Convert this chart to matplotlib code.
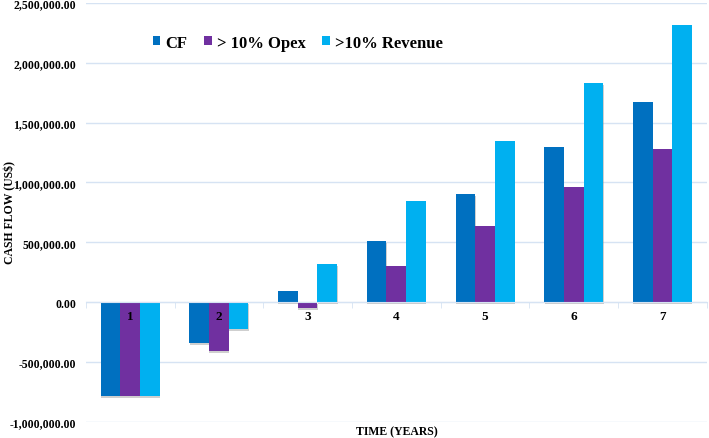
import numpy as np
import matplotlib
matplotlib.use("Agg")
import matplotlib.pyplot as plt
import matplotlib.patheffects as pe
from matplotlib.ticker import FuncFormatter

# values (US$)
years = ["1", "2", "3", "4", "5", "6", "7"]
cf = [-785000, -343000, 90000, 510000, 906000, 1296000, 1672000]
opex = [-785000, -407000, -44000, 301000, 638000, 964000, 1283000]
revenue = [-785000, -226000, 318000, 845000, 1346000, 1834000, 2312000]
series_names = ["CF", "> 10% Opex", ">10% Revenue"]
colors = ["#0070C0", "#7030A0", "#00B0F0"]

plt.rcParams["font.family"] = ["Liberation Serif", "DejaVu Serif"]
plt.rcParams["font.weight"] = "bold"

fig = plt.figure(figsize=(7.09, 4.39), dpi=100)
ax = fig.add_axes([0.121, 0.0364, 0.876, 0.955])

x = np.arange(len(years))
w = 0.222
all_bars = []
for i, (vals, name, c) in enumerate(zip([cf, opex, revenue], series_names, colors)):
    bars = ax.bar(x + (i - 1) * w, vals, width=w, color=c, label=name, zorder=2)
    all_bars.append(bars)

# category labels just below the zero line
for xi, lab in zip(x, years):
    ax.text(xi, -115000, lab, ha="center", va="center", fontsize=9.5,
            fontweight="bold", color="black", zorder=5)

ax.set_xlim(-0.5, len(years) - 0.5)
ax.set_ylim(-1000000, 2500000)
ax.set_yticks(np.arange(-1000000, 2500001, 500000))
ax.yaxis.set_major_formatter(FuncFormatter(lambda v, p: f"{v:,.2f}"))
ax.tick_params(axis="y", length=0, labelsize=8.5, pad=7)

ax.set_xticks([])
ax.set_xticks(np.arange(-0.5, len(years) - 0.4, 1), minor=True)
ax.tick_params(axis="x", which="minor", length=4, color="#D6E3F3", direction="out")
ax.tick_params(axis="x", which="major", length=0)

ax.grid(axis="y", color="#D6E3F3", linewidth=1)
ax.set_axisbelow(True)
for s in ["top", "right", "left"]:
    ax.spines[s].set_visible(False)
ax.spines["bottom"].set_position(("data", 0))
ax.spines["bottom"].set_color("#D6E3F3")

fig.text(0.006, 0.517, "CASH FLOW (US$)", rotation=90, ha="left", va="center",
         fontsize=8.5, fontweight="bold")
fig.text(0.56, 0.016, "TIME (YEARS)", ha="center", va="center",
         fontsize=8.5, fontweight="bold")

ax.legend(loc="upper left", bbox_to_anchor=(0.084, 0.96), ncol=3, frameon=False,
          prop={"size": 12, "weight": "bold"}, handlelength=0.45, handleheight=0.45,
          handletextpad=0.3, columnspacing=1.0)

# soft shadow under the bars (added after the legend so the keys stay plain)
shadow = [pe.SimplePatchShadow(offset=(0.3, -1.5), shadow_rgbFace="#888888", alpha=0.4), pe.Normal()]
for bars in all_bars:
    for b in bars:
        b.set_path_effects(shadow)

fig.savefig("out.png", dpi=100)
